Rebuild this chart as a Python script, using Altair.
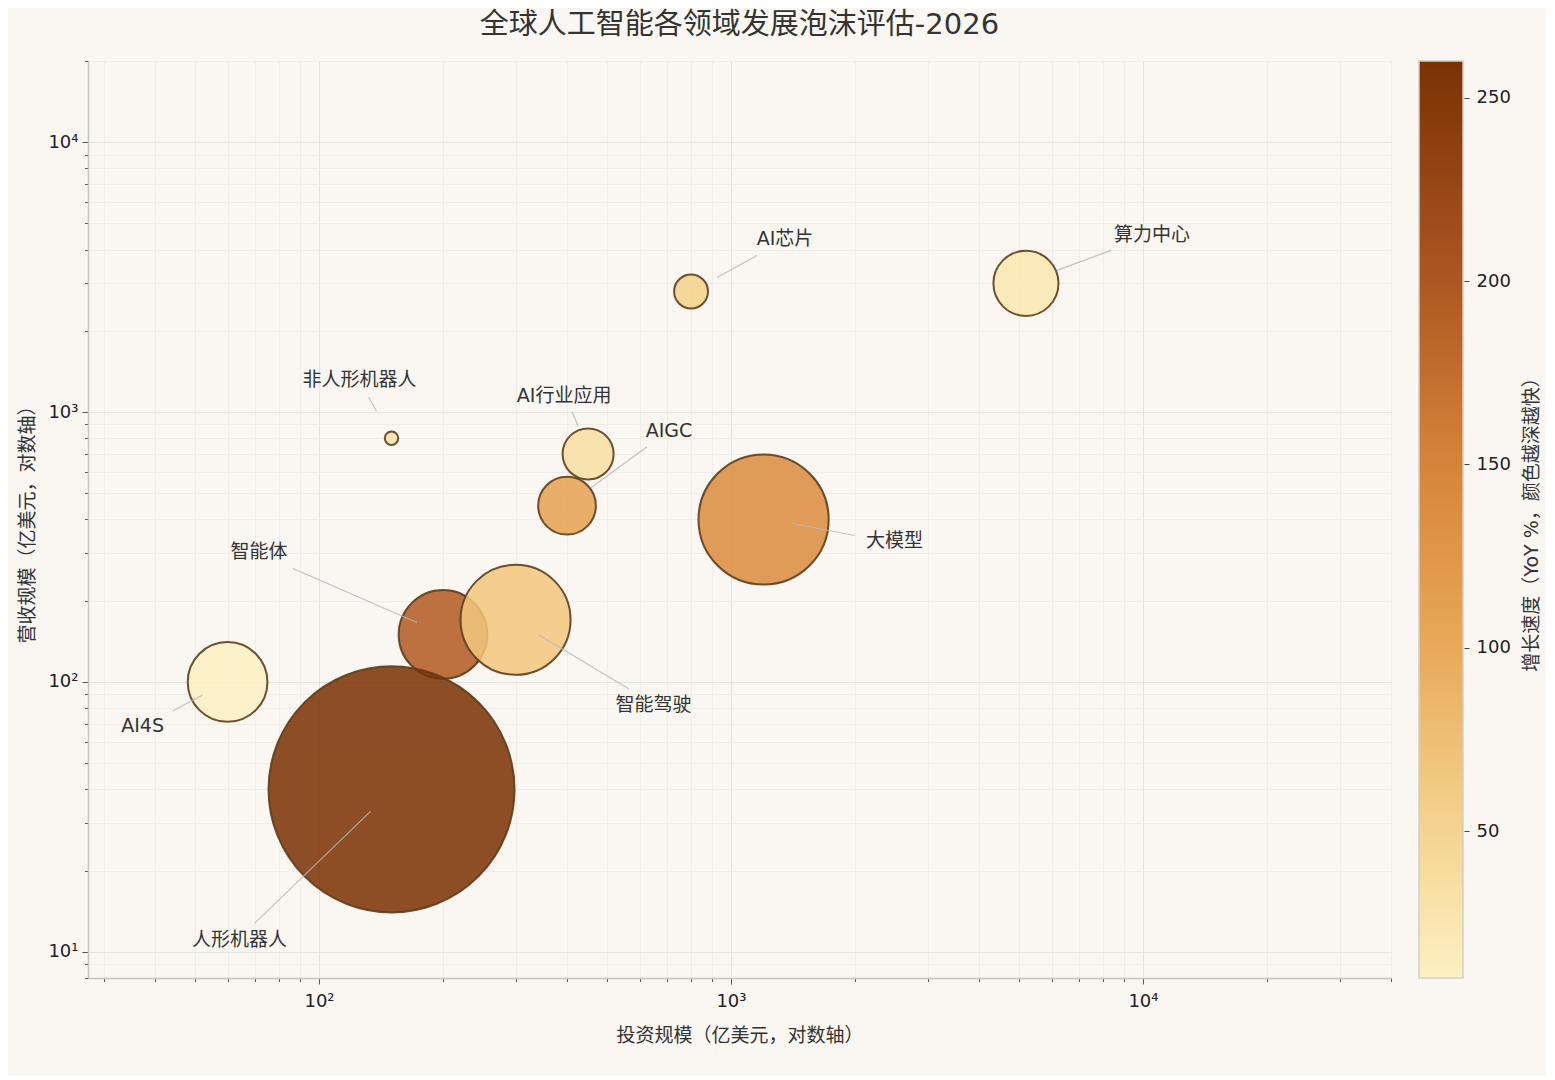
import math
import pandas as pd
import altair as alt

# --- 数据 ---
names = ["非人形机器人", "AI芯片", "算力中心", "AI行业应用", "AIGC",
         "AI4S", "大模型", "智能体", "智能驾驶", "人形机器人"]
invest = [150, 800, 5200, 450, 400, 60, 1200, 200, 300, 150]     # 投资规模（亿美元）
revenue = [800, 2800, 3000, 700, 450, 100, 400, 150, 170, 40]    # 营收规模（亿美元）
growth = [30, 55, 25, 35, 110, 10, 140, 195, 65, 260]            # 增长速度 YoY %
bubble = [0.3, 1.9, 7, 4.3, 5.5, 10.5, 28, 13, 20, 100]          # 泡沫指数

# --- 标注位置（相对气泡中心的像素偏移）---
text_dx = [-32, 94, 126, -24, 102, -85, 131, -184, 138, -152]
text_dy = [-58, -52, -48, -58, -75, 44, 21, -82, 85, 151]
line_from = [(-15, -27), (26, -14), (31, -13), (-10, -28), (24, -18),
             (-25, 13), (29, 4), (-26, -12), (23, 15), (-21, 22)]
line_to = [(-23, -41), (66, -36), (85, -33), (-16, -42), (80, -59),
           (-55, 29), (91, 16), (-150, -66), (113, 69), (-137, 134)]

W, H = 1303, 917
X_DOM = [27.5, 40000]
Y_DOM = [8, 20000]
ppd_x = W / (math.log10(X_DOM[1]) - math.log10(X_DOM[0]))
ppd_y = H / (math.log10(Y_DOM[1]) - math.log10(Y_DOM[0]))


def sx(v, px):
    return v * 10 ** (px / ppd_x)


def sy(v, px):
    return v * 10 ** (-px / ppd_y)


df = pd.DataFrame({
    "领域": names, "投资": invest, "营收": revenue,
    "增长": growth, "泡沫": bubble,
})
df["tx"] = [sx(v, d) for v, d in zip(invest, text_dx)]
df["ty"] = [sy(v, d) for v, d in zip(revenue, text_dy)]
df["lx1"] = [sx(v, p[0]) for v, p in zip(invest, line_from)]
df["ly1"] = [sy(v, p[1]) for v, p in zip(revenue, line_from)]
df["lx2"] = [sx(v, p[0]) for v, p in zip(invest, line_to)]
df["ly2"] = [sy(v, p[1]) for v, p in zip(revenue, line_to)]

FONT = "DejaVu Sans, Noto Sans CJK SC"

sup = {10: "10¹", 100: "10²", 1000: "10³", 10000: "10⁴"}
major_test = " || ".join(f"datum.value === {k}" for k in sup)
label_expr = " : ".join(f"datum.value === {k} ? '{v}'" for k, v in sup.items()) + " : ''"

x_ticks = [m * 10 ** e for e in range(1, 5) for m in range(1, 10)]
x_ticks = [t for t in x_ticks if X_DOM[0] <= t <= X_DOM[1]]
y_ticks = [m * 10 ** e for e in range(0, 5) for m in range(1, 10)]
y_ticks = [t for t in y_ticks if Y_DOM[0] <= t <= Y_DOM[1]]


def log_axis(title, values, lpad, tpad):
    return alt.Axis(
        title=title, values=values, labelExpr=label_expr, labelOverlap=False,
        labelFlush=False, labelFont="DejaVu Sans", labelFontSize=18,
        labelColor="#222222", labelPadding=lpad,
        tickSize={"condition": {"test": major_test, "value": 6}, "value": 3.5},
        tickColor="#555555", tickWidth=1,
        gridColor={"condition": {"test": major_test, "value": "#e3dfd9"}, "value": "#eeebe5"},
        gridWidth=0.9, domainColor="#c6c2bc", domainWidth=1.5,
        titleFont=FONT, titleFontSize=19, titleFontWeight="normal",
        titleColor="#333333", titlePadding=tpad,
    )


xs = alt.Scale(type="log", domain=X_DOM, nice=False)
ys = alt.Scale(type="log", domain=Y_DOM, nice=False)

color_scale = alt.Scale(
    domain=[10, 50, 100, 150, 200, 260],
    range=["#fdf0c4", "#f5d490", "#e8a95a", "#d8843a", "#ae5622", "#7a3205"],
)

bubbles = alt.Chart(df).mark_circle(
    fillOpacity=0.86, stroke="#5e3d1c", strokeWidth=2, strokeOpacity=0.9
).encode(
    x=alt.X("投资:Q", scale=xs, axis=log_axis("投资规模（亿美元，对数轴）", x_ticks, 8, 16)),
    y=alt.Y("营收:Q", scale=ys, axis=log_axis("营收规模（亿美元，对数轴）", y_ticks, 4, 10)),
    size=alt.Size("泡沫:Q", scale=alt.Scale(domain=[0, 100], range=[0, 60516], zero=True), legend=None),
    color=alt.Color(
        "增长:Q", scale=color_scale,
        legend=alt.Legend(
            orient="none", legendX=1331, legendY=0, direction="vertical",
            gradientLength=H, gradientThickness=44, title=None,
            labelExpr="''", gradientStrokeColor="#d2cec8", gradientStrokeWidth=1.5,
        ),
    ),
    order=alt.Order("泡沫:Q", sort="ascending"),
)

lines = alt.Chart(df).mark_rule(color="#b8b8b8", strokeWidth=1.2, opacity=0.85).encode(
    x=alt.X("lx1:Q", scale=xs),
    y=alt.Y("ly1:Q", scale=ys),
    x2="lx2:Q",
    y2="ly2:Q",
)

labels = alt.Chart(df).mark_text(
    font=FONT, fontSize=19, color="#333333", align="center", baseline="middle"
).encode(
    x=alt.X("tx:Q", scale=xs),
    y=alt.Y("ty:Q", scale=ys),
    text="领域:N",
)

main = alt.layer(bubbles, lines, labels)

# 颜色条的刻度与标题（右侧独立坐标轴）
cbar_axis = alt.Chart(df).mark_point(opacity=0, size=0).encode(
    y=alt.Y(
        "增长:Q",
        scale=alt.Scale(domain=[10, 260], nice=False, zero=False),
        axis=alt.Axis(
            orient="right", offset=73, values=[50, 100, 150, 200, 250],
            domain=False, grid=False, tickSize=5, tickColor="#444444",
            labelFont="DejaVu Sans", labelFontSize=18, labelColor="#222222",
            labelPadding=7, title="增长速度（YoY %，颜色越深越快）",
            titleFont=FONT, titleFontSize=19, titleFontWeight="normal",
            titleColor="#333333", titleAngle=270, titlePadding=31,
        ),
    ),
)

chart = alt.layer(main, cbar_axis).resolve_scale(y="independent").properties(
    width=W,
    height=H,
    background="#faf7f2",
    padding={"left": 80, "top": 53, "right": 155, "bottom": 98},
    autosize=alt.AutoSizeParams(type="none"),
    title=alt.TitleParams(
        "全球人工智能各领域发展泡沫评估-2026", font=FONT, fontSize=29,
        fontWeight="normal", color="#333333", anchor="middle", offset=12,
    ),
).configure_view(stroke=None)

chart.save("out.html", embed_options={"renderer": "svg", "actions": False})
